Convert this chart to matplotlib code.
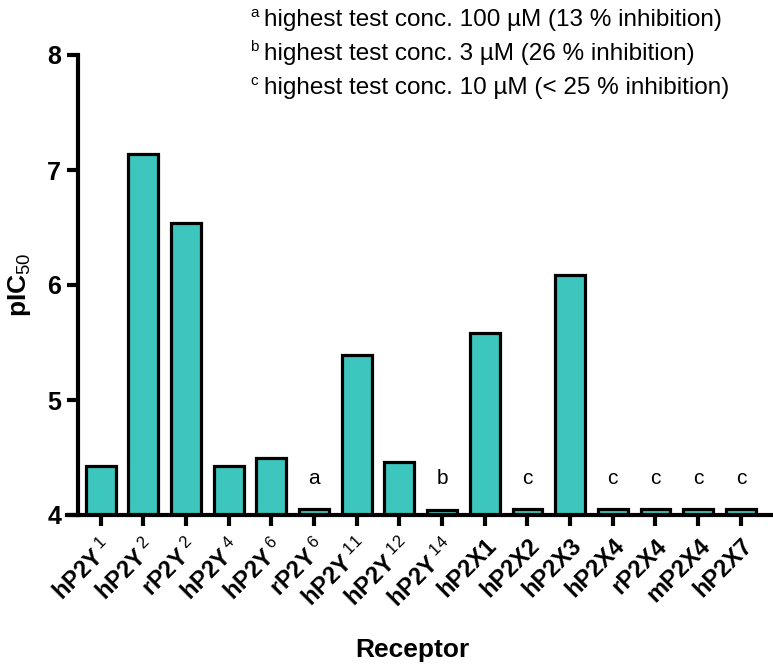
import matplotlib
matplotlib.use("Agg")
import matplotlib.pyplot as plt

plt.rcParams['font.family'] = ['Liberation Sans', 'DejaVu Sans']
plt.rcParams['mathtext.fontset'] = 'custom'
plt.rcParams['mathtext.rm'] = 'Liberation Sans'
plt.rcParams['mathtext.bf'] = 'Liberation Sans:bold'
plt.rcParams['mathtext.it'] = 'Liberation Sans:italic'

receptors = ['hP2Y', 'hP2Y', 'rP2Y', 'hP2Y', 'hP2Y', 'rP2Y', 'hP2Y', 'hP2Y', 'hP2Y',
             'hP2X1', 'hP2X2', 'hP2X3', 'hP2X4', 'rP2X4', 'mP2X4', 'hP2X7']
subscripts = ['1', '2', '2', '4', '6', '6', '11', '12', '14',
              '', '', '', '', '', '', '']
pic50 = [4.43, 7.14, 6.54, 4.43, 4.50, 4.05, 5.39, 4.46, 4.04,
         5.58, 4.05, 6.09, 4.05, 4.05, 4.05, 4.05]
notes = ['', '', '', '', '', 'a', '', '', 'b', '', 'c', '', 'c', 'c', 'c', 'c']
footnotes = [('a', 'highest test conc. 100 µM (13 % inhibition)'),
             ('b', 'highest test conc. 3 µM (26 % inhibition)'),
             ('c', 'highest test conc. 10 µM (< 25 % inhibition)')]
yticks = [4, 5, 6, 7, 8]

W, H = 773, 666
fig = plt.figure(figsize=(W / 100, H / 100), dpi=100)
left_px, right_px, top_px, bot_px = 66.5, 772, 55, 515
ax = fig.add_axes([left_px / W, 1 - bot_px / H, (right_px - left_px) / W, (bot_px - top_px) / H])

x = list(range(len(receptors)))
ax.bar(x, [v - 4 for v in pic50], bottom=4, width=0.70, color='#3cc6bd',
       edgecolor='black', linewidth=2.3, zorder=2)

ax.set_xlim(-0.8, 15.73)
ax.set_ylim(4, 8)

for s in ['top', 'right']:
    ax.spines[s].set_visible(False)
ax.spines['left'].set_position(('data', -0.53))
for s in ['left', 'bottom']:
    ax.spines[s].set_linewidth(3)
    ax.spines[s].set_zorder(3)
    ax.spines[s].set_capstyle('projecting')

ax.set_yticks(yticks)
ax.set_yticklabels([str(t) for t in yticks], fontsize=18, fontweight='bold')
ax.set_xticks(x)
labels = []
for r, s in zip(receptors, subscripts):
    if s:
        labels.append(r'$\mathbf{' + r + r'}^{\mathrm{\ ' + s + r'}}$')
    else:
        labels.append(r)
ax.set_xticklabels(labels, rotation=45, ha='right', rotation_mode='anchor',
                   fontsize=17, fontweight='bold')
ax.tick_params(axis='both', length=8, width=3, direction='out', pad=4)
ax.tick_params(axis='x', pad=6)

for xi, n in zip(x, notes):
    if n:
        ax.text(xi, 4.32, n, ha='center', va='center', fontsize=15)

ax.set_ylabel(r'$\mathbf{pIC}_{\mathrm{50}}$', fontsize=19, labelpad=10)
fig.text(412 / W, 1 - 650 / H, 'Receptor', ha='center', va='center',
         fontsize=19, fontweight='bold')

for i, (sup, txt) in enumerate(footnotes):
    yy = 1 - (20 + 34 * i) / H
    fig.text(250 / W, yy + 0.01, sup, ha='left', va='center', fontsize=11)
    fig.text(264 / W, yy, txt, ha='left', va='center', fontsize=17.5)

fig.savefig('out.png', dpi=100)
